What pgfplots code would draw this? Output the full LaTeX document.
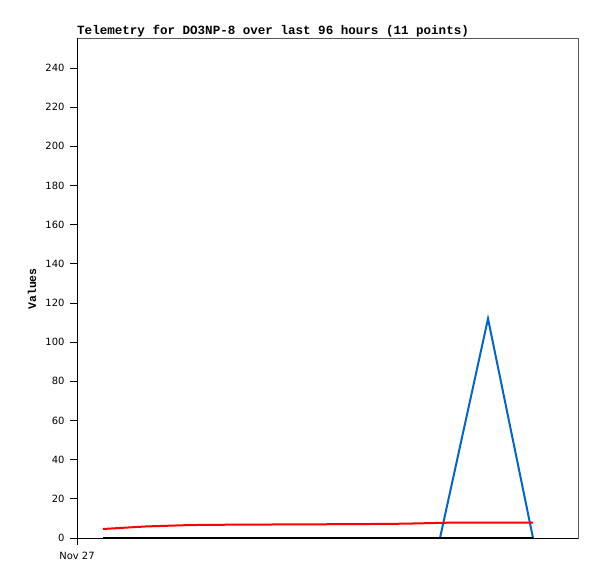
\documentclass[border=0pt]{standalone}
\usepackage{pgfplots}
\pgfplotsset{compat=1.18}
\usepackage{fontspec}
\setmainfont{DejaVu Sans}
\newfontfamily\monob{Liberation Mono}[BoldFont={Liberation Mono Bold}]
\begin{document}
\begin{tikzpicture}[x=1bp,y=1bp]
\useasboundingbox (0,0) rectangle (597,579);
\begin{axis}[
  at={(77bp,41bp)}, anchor=south west,
  scale only axis, width=501bp, height=500bp,
  xmin=77, xmax=578, ymin=0, ymax=255.3,
  axis line style={draw=black!65, line width=0.8bp},
  tick align=outside, tick pos=left,
  major tick length=7bp,
  tick style={black, line width=0.8bp},
  ytick={0,20,...,240},
  xtick={77}, xticklabels={Nov 27},
  ticklabel style={font=\fontsize{10}{12}\selectfont},
  /pgf/number format/assume math mode=true,
  yticklabel style={xshift=-2bp},
  xticklabel style={yshift=-4bp},
  clip=false,
]
\draw[black, line width=1bp] (rel axis cs:0,0) -- (rel axis cs:0,1);
\draw[black, line width=1bp] (rel axis cs:0,0) -- (rel axis cs:1,0);
\addplot[color={rgb,255:red,0;green,102;blue,204}, line width=2bp] coordinates {
(440,0) (488,112) (533,0)};
\addplot[red, line width=2bp] coordinates {
(103,4.6) (146,5.9) (189,6.6) (232,6.8) (275,6.9) (318,7.0) (361,7.1) (404,7.3) (447,7.8) (490,7.9) (533,7.9)};
\addplot[black, line width=2bp] coordinates {
(103,0) (146,0) (189,0) (232,0) (275,0) (318,0) (361,0) (404,0) (447,0) (490,0) (533,0)};
\end{axis}
\node[anchor=west, inner sep=0pt, font=\monob\bfseries\fontsize{12.6}{14}\selectfont] at (77,548) {Telemetry for DO3NP-8 over last 96 hours (11 points)};
\node[rotate=90, inner sep=0pt, font=\monob\bfseries\fontsize{11.5}{13}\selectfont] at (32,290) {Values};
\end{tikzpicture}
\end{document}
